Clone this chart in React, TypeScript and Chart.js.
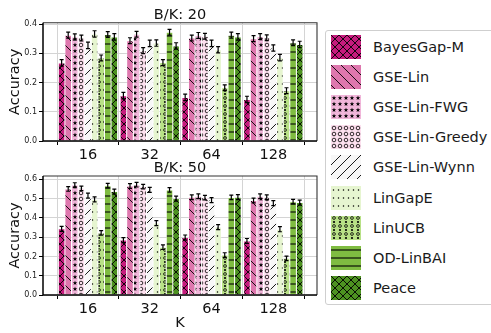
import React, { useEffect, useRef } from "react";
import { Chart, registerables } from "chart.js";
Chart.register(...registerables);

const FONT = "'DejaVu Sans', sans-serif";
Chart.defaults.font.family = FONT;

const categories = ["16", "32", "64", "128"];
const seriesNames = ["BayesGap-M", "GSE-Lin", "GSE-Lin-FWG", "GSE-Lin-Greedy", "GSE-Lin-Wynn", "LinGapE", "LinUCB", "OD-LinBAI", "Peace"];
const seriesColors = ["#c51b7d", "#de77ae", "#f1b6da", "#fde0ef", "#f7f7f7", "#e6f5d0", "#b8e186", "#7fbc41", "#4d9221"];
const seriesHatches = ["x", "\\", "*", "o", "/", ".", "O", "-", "x"];

// B/K: 20
const bk20BayesGapM = [0.267, 0.155, 0.149, 0.142];
const bk20GSELin = [0.362, 0.343, 0.352, 0.350];
const bk20GSELinFWG = [0.356, 0.365, 0.361, 0.357];
const bk20GSELinGreedy = [0.352, 0.309, 0.358, 0.353];
const bk20GSELinWynn = [0.327, 0.334, 0.334, 0.318];
const bk20LinGapE = [0.366, 0.335, 0.312, 0.285];
const bk20LinUCB = [0.284, 0.268, 0.182, 0.172];
const bk20ODLinBAI = [0.364, 0.372, 0.362, 0.336];
const bk20Peace = [0.356, 0.325, 0.356, 0.330];
const bk20Errors = [0.011, 0.010, 0.010, 0.010, 0.011, 0.011, 0.010, 0.010, 0.011];

// B/K: 50
const bk50BayesGapM = [0.343, 0.285, 0.298, 0.280];
const bk50GSELin = [0.550, 0.565, 0.507, 0.490];
const bk50GSELinFWG = [0.570, 0.572, 0.512, 0.512];
const bk50GSELinGreedy = [0.553, 0.562, 0.505, 0.507];
const bk50GSELinWynn = [0.515, 0.545, 0.492, 0.476];
const bk50LinGapE = [0.496, 0.373, 0.352, 0.341];
const bk50LinUCB = [0.322, 0.248, 0.207, 0.190];
const bk50ODLinBAI = [0.567, 0.545, 0.506, 0.484];
const bk50Peace = [0.536, 0.500, 0.507, 0.479];
const bk50Errors = [0.013, 0.012, 0.012, 0.012, 0.013, 0.013, 0.012, 0.012, 0.013];

const bk20Ticks = [0.0, 0.1, 0.2, 0.3, 0.4];
const bk50Ticks = [0.0, 0.1, 0.2, 0.3, 0.4, 0.5, 0.6];

function makeTile(color: string, hatch: string): HTMLCanvasElement {
  const t = document.createElement("canvas");
  let w = 8, h = 8;
  if (hatch === "\\" || hatch === "/") { w = 10; h = 10; }
  if (hatch === "*" || hatch === "o") { w = 6; h = 6; }
  if (hatch === ".") { w = 10; h = 8; }
  if (hatch === "O") { w = 6; h = 8; }
  t.width = w; t.height = h;
  const c = t.getContext("2d")!;
  c.fillStyle = color;
  c.fillRect(0, 0, w, h);
  c.strokeStyle = "#000";
  c.fillStyle = "#000";
  c.lineWidth = 0.9;
  const line = (x1: number, y1: number, x2: number, y2: number) => {
    c.beginPath(); c.moveTo(x1, y1); c.lineTo(x2, y2); c.stroke();
  };
  if (hatch === "x") {
    line(-1, -1, w + 1, h + 1);
    line(-1, h + 1, w + 1, -1);
  } else if (hatch === "\\") {
    line(-1, -1, w + 1, h + 1);
  } else if (hatch === "/") {
    line(-1, h + 1, w + 1, -1);
  } else if (hatch === "-") {
    c.lineWidth = 1.1;
    line(0, 4, w, 4);
  } else if (hatch === "*") {
    const cx = 3, cy = 3, ro = 2.4, ri = 1.0;
    c.beginPath();
    for (let k = 0; k < 10; k++) {
      const r = k % 2 === 0 ? ro : ri;
      const a = -Math.PI / 2 + (k * Math.PI) / 5;
      const px = cx + r * Math.cos(a), py = cy + r * Math.sin(a);
      if (k === 0) c.moveTo(px, py); else c.lineTo(px, py);
    }
    c.closePath();
    c.fill();
  } else if (hatch === "o") {
    c.lineWidth = 0.8;
    c.beginPath(); c.arc(3, 3, 1.8, 0, Math.PI * 2); c.stroke();
  } else if (hatch === ".") {
    c.beginPath(); c.arc(2.5, 4, 0.75, 0, Math.PI * 2); c.fill();
    c.beginPath(); c.arc(7.5, 4, 0.75, 0, Math.PI * 2); c.fill();
  } else if (hatch === "O") {
    c.lineWidth = 0.8;
    c.beginPath(); c.arc(3, 2, 1.4, 0, Math.PI * 2); c.stroke();
    c.beginPath(); c.arc(3, 6, 1.1, 0, Math.PI * 2); c.fill();
  }
  return t;
}

type ChartProps = {
  values: number[][];
  errors: number[];
  yMax: number;
  yTicks: number[];
  title: string;
  top: number;
  height: number;
  padTop: number;
  xAxisHeight: number;
  showXTitle: boolean;
};

function BarChart(p: ChartProps) {
  const ref = useRef<HTMLCanvasElement>(null);
  useEffect(() => {
    const canvas = ref.current!;
    const ctx = canvas.getContext("2d")!;
    const datasets = seriesNames.map((name, si) => ({
      label: name,
      data: p.values[si].map((v, i) => ({ x: i, y: v })),
      backgroundColor: ctx.createPattern(makeTile(seriesColors[si], seriesHatches[si]), "repeat") as any,
      borderColor: "#ffffff",
      borderWidth: 0.5,
      categoryPercentage: 0.96,
      barPercentage: 1.0,
    }));
    const plugin = {
      id: "extras",
      afterDatasetsDraw(chart: any) {
        const c = chart.ctx;
        const ys = chart.scales.y;
        c.save();
        c.strokeStyle = "#000";
        c.lineWidth = 1.2;
        chart.data.datasets.forEach((_: any, di: number) => {
          const meta = chart.getDatasetMeta(di);
          meta.data.forEach((bar: any, i: number) => {
            const v = p.values[di][i];
            const e = p.errors[di];
            const x = bar.x;
            const y1 = ys.getPixelForValue(v - e);
            const y2 = ys.getPixelForValue(v + e);
            c.beginPath();
            c.moveTo(x, y1); c.lineTo(x, y2);
            c.moveTo(x - 2, y1); c.lineTo(x + 2, y1);
            c.moveTo(x - 2, y2); c.lineTo(x + 2, y2);
            c.stroke();
          });
        });
        c.restore();
      },
      afterDraw(chart: any) {
        const c = chart.ctx;
        const a = chart.chartArea;
        c.save();
        c.strokeStyle = "#333";
        c.lineWidth = 1.1;
        c.beginPath();
        c.moveTo(a.left, a.top); c.lineTo(a.right, a.top); c.lineTo(a.right, a.bottom);
        c.stroke();
        c.strokeStyle = "#000";
        c.lineWidth = 1.5;
        c.beginPath();
        c.moveTo(a.left, a.top); c.lineTo(a.left, a.bottom); c.lineTo(a.right, a.bottom);
        c.stroke();
        c.fillStyle = "#111";
        c.font = `14.5px ${FONT}`;
        c.textAlign = "center";
        c.textBaseline = "alphabetic";
        c.fillText(p.title, (a.left + a.right) / 2, a.top - 4);
        c.restore();
      },
    };
    const chart = new Chart(canvas, {
      type: "bar",
      data: { datasets: datasets as any },
      plugins: [plugin],
      options: {
        animation: false,
        responsive: false,
        maintainAspectRatio: false,
        devicePixelRatio: 1,
        layout: { padding: { top: p.padTop, right: 3, left: 0, bottom: 0 } },
        plugins: { legend: { display: false }, tooltip: { enabled: false }, title: { display: false } },
        scales: {
          x: {
            type: "linear",
            min: -0.728,
            max: 3.707,
            offset: false,
            afterBuildTicks: (s: any) => { s.ticks = categories.map((_, i) => ({ value: i })); },
            afterFit: (s: any) => { s.height = p.xAxisHeight; },
            ticks: {
              callback: (v: any) => categories[v] ?? "",
              font: { size: 14.5, family: FONT },
              color: "#111",
              padding: 2,
              maxRotation: 0,
              autoSkip: false,
            },
            grid: { color: "#d4d4d4", lineWidth: 1, tickLength: 4, tickColor: "#000", drawTicks: true },
            border: { display: false },
            title: {
              display: p.showXTitle,
              text: "K",
              font: { size: 14.5, family: FONT },
              color: "#111",
              padding: { top: 0, bottom: 1 },
            },
          } as any,
          y: {
            min: 0,
            max: p.yMax,
            afterBuildTicks: (s: any) => { s.ticks = p.yTicks.map((v) => ({ value: v })); },
            afterFit: (s: any) => { s.width = 43; },
            ticks: {
              callback: (v: any) => Number(v).toFixed(1),
              font: { size: 8, family: FONT },
              color: "#222",
              padding: 2,
            },
            grid: { color: "#d4d4d4", lineWidth: 1, tickLength: 4, tickColor: "#000", drawTicks: true },
            border: { display: false },
            title: {
              display: true,
              text: "Accuracy",
              font: { size: 14.5, family: FONT },
              color: "#111",
              padding: { top: 7, bottom: 0 },
            },
          } as any,
        },
      },
    });
    return () => chart.destroy();
  }, []);
  return (
    <canvas
      ref={ref}
      width={320}
      height={p.height}
      style={{ position: "absolute", left: 0, top: p.top, width: 320, height: p.height, display: "block" }}
    />
  );
}

function Swatch({ color, hatch }: { color: string; hatch: string }) {
  const ref = useRef<HTMLCanvasElement>(null);
  useEffect(() => {
    const c = ref.current!;
    const ctx = c.getContext("2d")!;
    ctx.fillStyle = ctx.createPattern(makeTile(color, hatch), "repeat")!;
    ctx.fillRect(0, 0, 30, 24);
  }, []);
  return <canvas ref={ref} width={30} height={24} style={{ position: "absolute", left: 0, top: 0, display: "block" }} />;
}

function Legend() {
  return (
    <div
      style={{
        position: "absolute",
        left: 325,
        top: 30,
        width: 180,
        height: 275,
        border: "1px solid #cfcfcf",
        borderRadius: 3,
        boxSizing: "border-box",
        background: "#fff",
      }}
    >
      {seriesNames.map((name, i) => (
        <div key={name} style={{ position: "absolute", left: 5, top: 4 + i * 30.1, width: 170, height: 24 }}>
          <div style={{ position: "absolute", left: 0, top: 0, width: 30, height: 24 }}>
            <Swatch color={seriesColors[i]} hatch={seriesHatches[i]} />
          </div>
          <div
            style={{
              position: "absolute",
              left: 42,
              top: 2,
              height: 20,
              lineHeight: "20px",
              fontSize: 14.5,
              fontFamily: FONT,
              color: "#1a1a1a",
              whiteSpace: "nowrap",
            }}
          >
            {name}
          </div>
        </div>
      ))}
    </div>
  );
}

export default function App() {
  const bk20 = [bk20BayesGapM, bk20GSELin, bk20GSELinFWG, bk20GSELinGreedy, bk20GSELinWynn, bk20LinGapE, bk20LinUCB, bk20ODLinBAI, bk20Peace];
  const bk50 = [bk50BayesGapM, bk50GSELin, bk50GSELinFWG, bk50GSELinGreedy, bk50GSELinWynn, bk50LinGapE, bk50LinUCB, bk50ODLinBAI, bk50Peace];
  return (
    <div style={{ position: "fixed", left: 0, top: 0, width: 491, height: 333, overflow: "hidden", background: "#fff" }}>
      <BarChart values={bk20} errors={bk20Errors} yMax={0.4045} yTicks={bk20Ticks} title="B/K: 20" top={0} height={160} padTop={22.7} xAxisHeight={19} showXTitle={false} />
      <BarChart values={bk50} errors={bk50Errors} yMax={0.617} yTicks={bk50Ticks} title="B/K: 50" top={160} height={173} padTop={16} xAxisHeight={38} showXTitle={true} />
      <Legend />
    </div>
  );
}
